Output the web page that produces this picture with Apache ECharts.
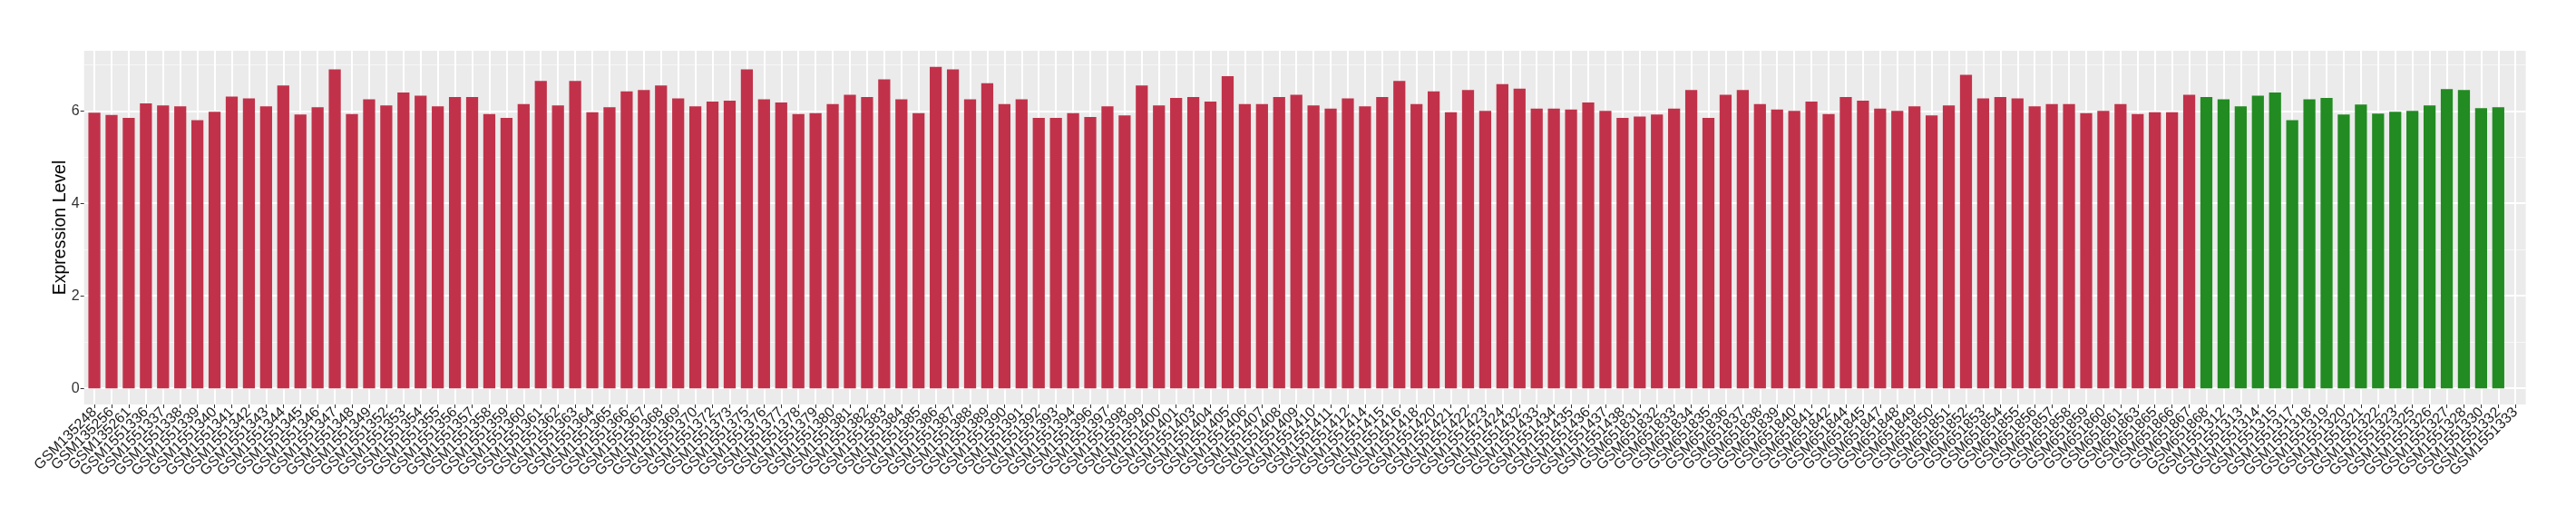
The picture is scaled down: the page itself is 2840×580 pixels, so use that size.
<!DOCTYPE html>
<html>
<head>
<meta charset="utf-8">
<script src="https://cdn.jsdelivr.net/npm/echarts@6/dist/echarts.min.js"></script>
<style>html,body{margin:0;padding:0;background:#fff}#c{width:2840px;height:580px}</style>
</head>
<body>
<div id="c"></div>
<script>
const redSamples = ["GSM135248","GSM135256","GSM135261",
"GSM1551336","GSM1551337","GSM1551338","GSM1551339","GSM1551340","GSM1551341","GSM1551342","GSM1551343","GSM1551344","GSM1551345","GSM1551346","GSM1551347","GSM1551348","GSM1551349",
"GSM1551352","GSM1551353","GSM1551354","GSM1551355","GSM1551356","GSM1551357","GSM1551358","GSM1551359","GSM1551360","GSM1551361","GSM1551362","GSM1551363","GSM1551364","GSM1551365","GSM1551366","GSM1551367","GSM1551368","GSM1551369","GSM1551370",
"GSM1551372","GSM1551373","GSM1551375","GSM1551376","GSM1551377","GSM1551378","GSM1551379","GSM1551380","GSM1551381","GSM1551382","GSM1551383","GSM1551384","GSM1551385","GSM1551386","GSM1551387","GSM1551388","GSM1551389","GSM1551390","GSM1551391","GSM1551392","GSM1551393","GSM1551394",
"GSM1551396","GSM1551397","GSM1551398","GSM1551399","GSM1551400","GSM1551401",
"GSM1551403","GSM1551404","GSM1551405","GSM1551406","GSM1551407","GSM1551408","GSM1551409","GSM1551410","GSM1551411","GSM1551412",
"GSM1551414","GSM1551415","GSM1551416","GSM1551418","GSM1551420","GSM1551421","GSM1551422","GSM1551423","GSM1551424",
"GSM1551432","GSM1551433","GSM1551434","GSM1551435","GSM1551436","GSM1551437","GSM1551438",
"GSM651831","GSM651832","GSM651833","GSM651834","GSM651835","GSM651836","GSM651837","GSM651838","GSM651839","GSM651840","GSM651841","GSM651842",
"GSM651844","GSM651845","GSM651847","GSM651848","GSM651849","GSM651850","GSM651851","GSM651852","GSM651853","GSM651854","GSM651855","GSM651856","GSM651857","GSM651858","GSM651859","GSM651860","GSM651861",
"GSM651863","GSM651865","GSM651866","GSM651867","GSM651868"];

const redValues = [5.96,5.91,5.85,
6.16,6.12,6.10,5.80,5.98,6.31,6.27,6.10,6.55,5.92,6.08,6.90,5.93,6.25,
6.12,6.40,6.33,6.10,6.30,6.30,5.93,5.85,6.15,6.65,6.12,6.65,5.97,6.08,6.42,6.45,6.55,6.27,
6.10,6.20,6.22,6.90,6.25,6.18,5.93,5.95,6.15,6.35,6.30,6.68,6.25,5.95,6.95,6.90,6.25,6.60,6.15,6.25,5.85,5.85,
5.95,5.87,6.10,5.90,6.55,6.12,
6.28,6.30,6.20,6.75,6.15,6.15,6.30,6.35,6.12,6.05,
6.27,6.10,6.30,6.65,6.15,6.42,5.97,6.45,6.00,
6.58,6.48,6.05,6.05,6.03,6.18,6.00,
5.85,5.88,5.92,6.05,6.45,5.85,6.35,6.45,6.15,6.03,6.00,6.20,
5.93,6.30,6.22,6.05,6.00,6.10,5.90,6.12,6.78,6.27,6.30,6.27,6.10,6.15,6.15,5.95,6.00,
6.15,5.93,5.97,5.97,6.35];

const greenSamples = ["GSM1551312","GSM1551313","GSM1551314","GSM1551315","GSM1551317","GSM1551318","GSM1551319","GSM1551320","GSM1551321","GSM1551322","GSM1551323","GSM1551325","GSM1551326","GSM1551327","GSM1551328","GSM1551330","GSM1551332","GSM1551333"];
const greenValues = [6.30,6.25,6.10,6.33,6.40,5.80,6.25,6.28,5.92,6.14,5.94,5.98,6.00,6.12,6.47,6.45,6.06,6.08];

const yTicks = [0, 2, 4, 6];
const yMinorTicks = [1, 3, 5, 7];
const yTitle = "Expression Level";

const RED = "#C1324A", GREEN = "#228B22";
const categories = redSamples.concat(greenSamples);
const barData = redValues.map(v => ({value: v, itemStyle: {color: RED}}))
  .concat(greenValues.map(v => ({value: v, itemStyle: {color: GREEN}})));

const Y_MIN = -0.35, Y_MAX = 7.30;
const PANEL_L = 92.7, PANEL_R = 55.4, TOP = 56, BOTTOM = 134;
const n = categories.length;
const step = (2840 - PANEL_L - PANEL_R) / (n + 0.2);
const FONT = 'Liberation Sans, Arial, sans-serif';

const chart = echarts.init(document.getElementById('c'), null, {renderer: 'canvas'});
chart.setOption({
  animation: false,
  backgroundColor: '#fff',
  grid: [
    {left: PANEL_L, right: PANEL_R, top: TOP, bottom: BOTTOM, show: true, backgroundColor: '#EBEBEB', borderWidth: 0, z: -5},
    {left: PANEL_L + 0.6 * step, right: PANEL_R + 0.6 * step, top: TOP, bottom: BOTTOM},
    {left: PANEL_L + 0.1 * step, right: PANEL_R + 0.1 * step, top: TOP, bottom: BOTTOM}
  ],
  xAxis: [
    {gridIndex: 0, type: 'value', show: false, min: 0, max: 1, splitLine: {show: false}},
    {gridIndex: 1, type: 'category', data: categories, boundaryGap: false, z: 1, position: 'bottom',
      axisLine: {show: false, onZero: false},
      axisTick: {show: true, interval: 0, length: 4, lineStyle: {color: '#333', width: 1}},
      splitLine: {show: true, interval: 0, lineStyle: {color: '#fff', width: 2}},
      axisLabel: {interval: 0, rotate: 45, fontSize: 16, color: '#1a1a1a', fontFamily: FONT, margin: 6}
    },
    {gridIndex: 2, type: 'category', data: categories, boundaryGap: true, show: false}
  ],
  yAxis: [
    {gridIndex: 0, type: 'value', min: Y_MIN, max: Y_MAX, z: 1, position: 'left',
      axisLine: {show: false, onZero: false},
      axisTick: {show: true, length: 4, customValues: yTicks, lineStyle: {color: '#333'}},
      axisLabel: {customValues: yTicks, fontSize: 16, color: '#333', margin: 5, fontFamily: FONT},
      splitLine: {show: true, lineStyle: {color: '#fff', width: 2}},
      name: yTitle, nameLocation: 'middle', nameGap: 16, nameRotate: 90, nameMoveOverlap: false,
      nameTextStyle: {fontSize: 19.5, color: '#000', fontFamily: FONT}
    },
    {gridIndex: 0, type: 'value', min: Y_MIN, max: Y_MAX, z: 1,
      axisLine: {show: false, onZero: false},
      axisTick: {show: false, customValues: yMinorTicks},
      axisLabel: {show: false, customValues: yMinorTicks},
      splitLine: {show: true, lineStyle: {color: '#F7F7F7', width: 1}}
    },
    {gridIndex: 1, type: 'value', min: Y_MIN, max: Y_MAX, show: false, splitLine: {show: false}},
    {gridIndex: 2, type: 'value', min: Y_MIN, max: Y_MAX, show: false, splitLine: {show: false}}
  ],
  series: [{
    type: 'bar', xAxisIndex: 2, yAxisIndex: 3, data: barData, barCategoryGap: '30%', z: 5
  }]
});
</script>
</body>
</html>
